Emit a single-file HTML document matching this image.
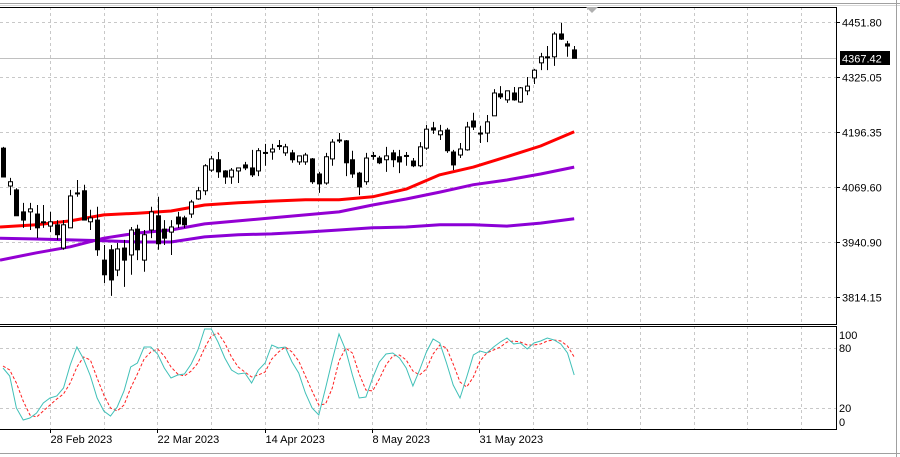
<!DOCTYPE html>
<html><head><meta charset="utf-8"><style>
html,body{margin:0;padding:0;background:#fff;width:900px;height:457px;overflow:hidden}
svg{display:block;font-family:"Liberation Sans",sans-serif}
</style></head><body>
<svg id="chart" width="900" height="457" xmlns="http://www.w3.org/2000/svg">
<rect x="0" y="0" width="900" height="457" fill="#fff"/>
<line x1="0" y1="3.5" x2="900" y2="3.5" stroke="#a0a0a0" stroke-width="1"/>
<line x1="0" y1="5.5" x2="900" y2="5.5" stroke="#d8d8d8" stroke-width="1"/>
<line x1="896.5" y1="0" x2="896.5" y2="457" stroke="#a0a0a0"/>
<line x1="0" y1="453.5" x2="900" y2="453.5" stroke="#a0a0a0"/>
<g id="grid"></g>
<g id="ma"></g>
<g id="candles"></g>
<g id="stoch"></g>
<g id="axes"></g>
<polygon points="586,7 598,7 592,13" fill="#b0b0b0"/>
</svg>
<script>
const opens=[4159,4071,4062,4011,4011,4006,3988,3978,3981,3927,3974,4055,4060,3988,3992,3899,3923,3876,3927,3911,3971,3899,3969,4002,3971,3964,3999,3997,4006,4041,4060,4108,4132,4106,4092,4106,4120,4113,4106,4148,4150,4164,4148,4148,4127,4127,4134,4099,4078,4134,4178,4176,4132,4101,4081,4141,4136,4132,4148,4139,4141,4129,4118,4159,4206,4190,4201,4150,4143,4155,4222,4194,4194,4234,4285,4271,4287,4266,4292,4322,4357,4371,4371,4424,4401,4387];
const highs=[4162,4090,4066,4032,4032,4027,4027,4011,3992,3992,4062,4085,4074,4016,4023,3934,3934,3939,3946,3976,3981,3969,4023,4046,3992,3992,4011,4002,4039,4069,4122,4141,4150,4108,4113,4113,4127,4155,4159,4169,4169,4178,4169,4155,4141,4148,4136,4104,4148,4180,4194,4178,4153,4104,4148,4150,4141,4162,4155,4155,4150,4136,4173,4213,4220,4213,4206,4155,4171,4220,4241,4211,4236,4296,4303,4292,4301,4301,4324,4343,4380,4396,4429,4450,4408,4396];
const lows=[4092,4050,4002,3974,3969,3950,3974,3964,3946,3923,3974,4046,3992,3969,3909,3846,3816,3862,3837,3865,3899,3872,3950,3923,3934,3911,3974,3974,3997,4039,4050,4104,4090,4076,4076,4078,4108,4092,4094,4118,4132,4155,4141,4125,4120,4120,4076,4055,4074,4118,4171,4094,4090,4050,4074,4132,4122,4104,4115,4101,4118,4115,4115,4155,4192,4178,4148,4108,4136,4153,4201,4171,4173,4234,4273,4264,4269,4264,4282,4308,4340,4340,4350,4410,4371,4368];
const closes=[4092,4081,4002,3992,4018,3974,3987,3988,3958,3981,4048,4053,3992,3997,3923,3865,3853,3925,3899,3969,3923,3958,4011,3937,3950,3976,3983,3981,4034,4060,4118,4134,4104,4092,4108,4113,4113,4097,4153,4149,4157,4165,4162,4132,4141,4143,4081,4076,4139,4173,4177,4125,4099,4069,4136,4142,4125,4141,4132,4127,4142,4118,4162,4203,4201,4199,4153,4120,4157,4208,4208,4193,4220,4287,4278,4292,4271,4299,4303,4340,4371,4370,4424,4412,4396,4367.42];
const maBars=[0,5,10,15,20,25,30,35,40,45,50,55,60,65,70,75,80,85];
const maRed=[3976,3981,3990,4004,4008,4013,4027,4032,4036,4039,4039,4046,4064,4097,4115,4139,4164,4197];
const maMid=[3899,3916,3930,3950,3962,3969,3983,3990,3997,4004,4011,4027,4041,4057,4074,4085,4099,4115];
const maLow=[3950,3948,3946,3944,3941,3941,3953,3958,3960,3964,3969,3974,3976,3981,3981,3978,3985,3995];
const stochMain=[60,52,20,8,10,15,25,30,32,40,63,81,69,52,30,17,12,21,37,61,65,81,81,74,60,50,53,54,64,78,99,99,86,70,58,54,55,45,58,65,83,80,81,66,55,35,20,13,40,68,94,78,53,30,31,50,66,74,75,70,60,42,58,76,89,85,65,43,30,51,73,77,75,81,86,90,84,85,79,85,87,90,88,84,75,53];
const stochSignal=[62,58,45,27,13,11,17,23,29,34,45,61,71,68,50,33,20,17,23,40,54,69,76,79,72,61,54,52,57,65,80,92,95,85,71,61,56,51,53,56,69,76,81,76,67,52,37,23,24,40,67,80,75,54,38,37,49,63,72,73,68,57,53,59,74,83,80,64,46,41,51,67,75,78,81,86,87,86,83,83,84,87,88,87,82,71];
const priceTicks=[4451.80,4325.05,4196.35,4069.60,3940.90,3814.15];
const stochTicks=[100,80,20,0];
const stochGrid=[80,20];
const dateLabels=["28 Feb 2023","22 Mar 2023","14 Apr 2023","8 May 2023","31 May 2023"];
const dateBars=[7,23,39,55,71];
const lastPrice=4367.42;

const NS="http://www.w3.org/2000/svg";
const PL=0,PR=836,PT=7,PB=324,ST=326,SB=429;
const px=i=>3+6.72*i;
const py=p=>22+(4451.8-p)*54.6/126.75;
const sy=v=>428-v;
function mk(tag,attrs,parent){const e=document.createElementNS(NS,tag);for(const k in attrs)e.setAttribute(k,attrs[k]);parent.appendChild(e);return e;}
const grid=document.getElementById('grid'),maG=document.getElementById('ma'),cG=document.getElementById('candles'),sG=document.getElementById('stoch'),aG=document.getElementById('axes');

for(let k=0;k<15;k++){const x=Math.round(50+53.65*k)+0.5;
 let l=mk('line',{x1:x,y1:PT,x2:x,y2:PB,stroke:'#c8c8c8','stroke-dasharray':'3,3'},grid);
 
 
 let l2=mk('line',{x1:x,y1:ST,x2:x,y2:SB,stroke:'#c8c8c8','stroke-dasharray':'3,3'},grid);
 
 }
priceTicks.forEach(p=>{const y=Math.round(py(p))+0.5;
 let l=mk('line',{x1:PL,y1:y,x2:PR,y2:y,stroke:'#c8c8c8','stroke-dasharray':'3,3'},grid);
 
 
 let t=mk('line',{x1:PR,y1:y,x2:PR+4,y2:y,stroke:'#000'},aG);
 
 
 let tx=mk('text',{x:842,y:y+4,'font-size':'11',fill:'#000'},aG);tx.textContent=p.toFixed(2);
 
 });
stochGrid.forEach(v=>{const y=Math.round(sy(v))+0.5;
 let l=mk('line',{x1:PL,y1:y,x2:PR,y2:y,stroke:'#c8c8c8','stroke-dasharray':'3,3'},grid);
 
 });
{const y=Math.round(py(lastPrice))+0.5;
 let l=mk('line',{x1:0,y1:y,x2:PR,y2:y,stroke:'#c0c0c0'},grid);
 
 
 let r=mk('rect',{x:840,y:y-7.5,width:50,height:14,fill:'#000'},aG);
 
 
 let t=mk('text',{x:842,y:y+4,'font-size':'11',fill:'#fff'},aG);t.textContent=lastPrice.toFixed(2);
 
 }

function maLine(vals,color,name){const pts=maBars.map((b,i)=>(b===0?0:px(b)).toFixed(1)+','+py(vals[i]).toFixed(1)).join(' ');
 let p=mk('polyline',{points:pts,fill:'none',stroke:color,'stroke-width':'3','stroke-linejoin':'round'},maG);
 
 }
maLine(maLow,'#8b00d6','moving-average-slow');
maLine(maMid,'#9400d3','moving-average-medium');
maLine(maRed,'#ff0000','moving-average-fast');

opens.forEach((o,i)=>{const c=closes[i],x=Math.round(px(i))+0.5;
 let w=mk('line',{x1:x,y1:py(highs[i]),x2:x,y2:py(lows[i]),stroke:'#000'},cG);
 
 
 const top=py(Math.max(o,c)),bot=py(Math.min(o,c));
 let b=mk('rect',{x:x-2,y:top,width:4,height:Math.max(1,bot-top),fill:c<o?'#000':'#fff',stroke:'#000','stroke-width':'1'},cG);
 
 });

function sLine(vals,color,dash,name){const pts=vals.map((v,i)=>px(i).toFixed(1)+','+sy(v).toFixed(1)).join(' ');
 const a={points:pts,fill:'none',stroke:color,'stroke-width':'1'};if(dash)a['stroke-dasharray']=dash;
 let p=mk('polyline',a,sG);
 
 }
sLine(stochSignal,'#ff2020','3,2','stochastic-signal-line');
sLine(stochMain,'#40c0b8',null,'stochastic-main-line');
stochTicks.forEach(v=>{let t=mk('text',{x:839,y:sy(v)+4+(v===100?7:0)+(v===0?-6:0),'font-size':'11',fill:'#000'},aG);t.textContent=v;
 
 });

let b1=mk('polyline',{points:`0,${PT+0.5} ${PR+0.5},${PT+0.5} ${PR+0.5},${PB+0.5} 0,${PB+0.5}`,fill:'none',stroke:'#000'},aG);


let b2=mk('polyline',{points:`0,${ST+0.5} ${PR+0.5},${ST+0.5} ${PR+0.5},${SB+0.5} 0,${SB+0.5}`,fill:'none',stroke:'#000'},aG);



dateBars.forEach((b,i)=>{const x=Math.round(50+107.3*i)+0.5;
 let t=mk('line',{x1:x,y1:SB,x2:x,y2:SB+4,stroke:'#000'},aG);
 
 
 let tx=mk('text',{x:x,y:443,'font-size':'11',fill:'#000'},aG);tx.textContent=dateLabels[i];
 
 });
</script>
</body></html>
